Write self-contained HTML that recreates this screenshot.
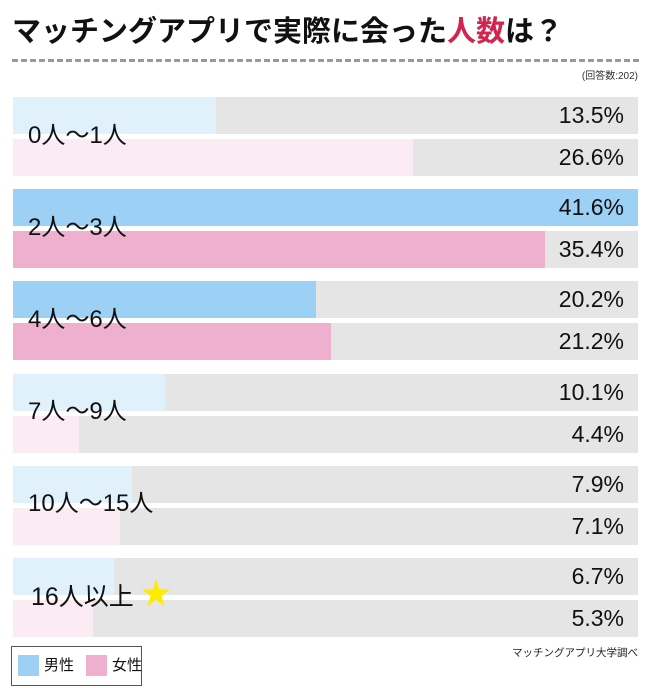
<!DOCTYPE html>
<html><head><meta charset="utf-8"><style>
body{margin:0;width:651px;height:700px;background:#fff;position:relative;overflow:hidden;font-family:"Liberation Sans","Noto Sans CJK JP",sans-serif;color:#111}
.a{position:absolute}
.bar{position:absolute;left:13px;width:625px;height:37px;background:#e5e5e5}
.fill{position:absolute;left:0;top:0;height:100%}
.val{position:absolute;right:14px;top:0;line-height:37px;font-size:23px}
.lab{position:absolute;left:28px;font-size:24px;line-height:26px;white-space:nowrap}
</style></head><body>
<div class="a" style="left:12px;top:8px;font-size:29px;font-weight:bold;letter-spacing:0px;white-space:nowrap">マッチングアプリで実際に会った<span style="color:#d0254f">人数</span>は？</div>
<div class="a" style="left:12px;top:59px;width:627px;height:0;border-top:3px dashed #999"></div>
<div class="a" style="right:13px;top:67px;font-size:10px;color:#333">(回答数:202)</div>

<div class="bar" style="top:97px"><div class="fill" style="width:203px;background:#e1f1fc"></div><div class="val">13.5%</div></div>
<div class="bar" style="top:139px"><div class="fill" style="width:400px;background:#fbebf2"></div><div class="val">26.6%</div></div>
<div class="lab" style="top:123px">0人〜1人</div>

<div class="bar" style="top:189px"><div class="fill" style="width:625px;background:#9dd0f5"></div><div class="val">41.6%</div></div>
<div class="bar" style="top:231px"><div class="fill" style="width:532px;background:#efb0cf"></div><div class="val">35.4%</div></div>
<div class="lab" style="top:215px">2人〜3人</div>

<div class="bar" style="top:281px"><div class="fill" style="width:303px;background:#9dd0f5"></div><div class="val">20.2%</div></div>
<div class="bar" style="top:323px"><div class="fill" style="width:318px;background:#efb0cf"></div><div class="val">21.2%</div></div>
<div class="lab" style="top:307px">4人〜6人</div>

<div class="bar" style="top:374px"><div class="fill" style="width:152px;background:#e1f1fc"></div><div class="val">10.1%</div></div>
<div class="bar" style="top:416px"><div class="fill" style="width:66px;background:#fbebf2"></div><div class="val">4.4%</div></div>
<div class="lab" style="top:399px">7人〜9人</div>

<div class="bar" style="top:466px"><div class="fill" style="width:119px;background:#e1f1fc"></div><div class="val">7.9%</div></div>
<div class="bar" style="top:508px"><div class="fill" style="width:107px;background:#fbebf2"></div><div class="val">7.1%</div></div>
<div class="lab" style="top:491px">10人〜15人</div>

<div class="bar" style="top:558px"><div class="fill" style="width:101px;background:#e1f1fc"></div><div class="val">6.7%</div></div>
<div class="bar" style="top:600px"><div class="fill" style="width:80px;background:#fbebf2"></div><div class="val">5.3%</div></div>
<div class="lab" style="top:584px;left:31px;font-size:25px">16人以上</div>
<div class="a" style="left:141px;top:578px;color:#ffeb00;font-size:30px;line-height:34px">★</div>

<div class="a" style="left:11px;top:646px;width:129px;height:38px;border:1px solid #555;background:#fff"></div>
<div class="a" style="left:18px;top:655px;width:21px;height:21px;background:#9dd0f5"></div>
<div class="a" style="left:44px;top:655px;font-size:15px;line-height:21px">男性</div>
<div class="a" style="left:86px;top:655px;width:21px;height:21px;background:#efb0cf"></div>
<div class="a" style="left:112px;top:655px;font-size:15px;line-height:21px">女性</div>
<div class="a" style="right:13px;top:645px;font-size:10.5px;color:#222">マッチングアプリ大学調べ</div>
</body></html>
